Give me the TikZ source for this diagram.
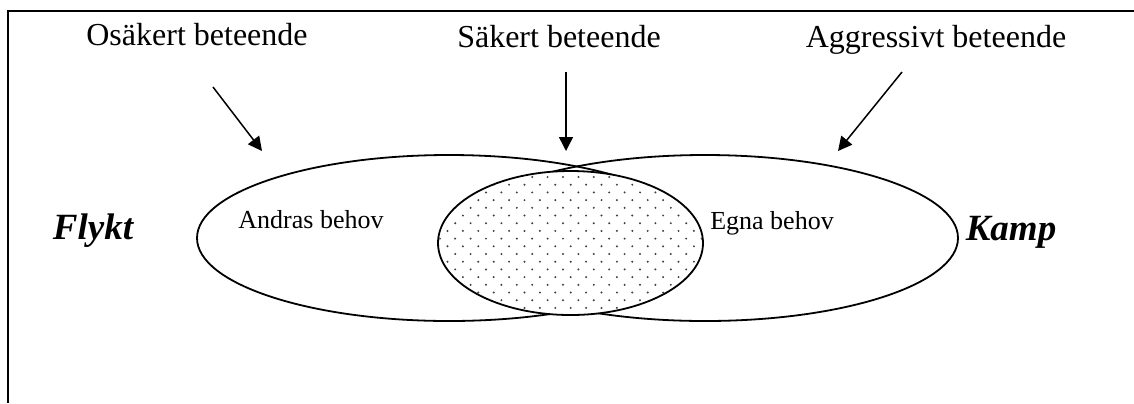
\documentclass[tikz,border=0pt]{standalone}
\usepackage{fontspec}
\setmainfont{Liberation Serif}
\usetikzlibrary{arrows.meta}
\tikzset{
    kant/.style={draw=black, line width=0.9pt},
    pil/.style={line width=0.75pt, -{Triangle[length=7pt,width=7pt]}},
    rubrik/.style={font=\fontsize{16}{19}\selectfont, anchor=base, inner sep=0pt},
    behov/.style={font=\fontsize{13}{16}\selectfont, anchor=base, inner sep=0pt},
    strategi/.style={font=\fontsize{18.5}{22}\selectfont\bfseries\itshape, anchor=base, inner sep=0pt}
}

\begin{document}
\begin{tikzpicture}[x=0.5pt, y=-0.5pt]
    \useasboundingbox (0,0) rectangle (1134,403);
    \draw[kant] (1134,11) -- (8,11) -- (8,403);
    \draw[kant] (449,238) ellipse (252 and 83);
    \draw[kant] (705,238) ellipse (253 and 83);
    \fill[white] (570.5,243) ellipse (132.5 and 72);
    \begin{scope}
        \clip (570.5,243) ellipse (131.5 and 71);
        \foreach \r in {0,...,20} {
            \foreach \k in {0,...,18} {
                \fill[black!75] ({424.4+15.4*\k+7.7*mod(\r+1,2)}, {169.3+7.7*\r}) circle (1.1);
            }
        }
    \end{scope}
    \draw[kant] (570.5,243) ellipse (132.5 and 72);
    \node[rubrik] (osaker) at (197,45) {Osäkert beteende};
    \node[rubrik] (saker) at (559,47) {Säkert beteende};
    \node[rubrik] (aggressiv) at (936,47) {Aggressivt beteende};
    \node[strategi] (flykt) at (93,239) {Flykt};
    \node[strategi] (kamp) at (1011,240) {Kamp};
    \node[behov] (andras) at (311,228) {Andras behov};
    \node[behov] (egna) at (772,229) {Egna behov};
    \coordinate (osaker-fran) at (213,87);
    \coordinate (osaker-till) at (262,151);
    \coordinate (saker-fran) at (566,72);
    \coordinate (saker-till) at (566,151);
    \coordinate (aggressiv-fran) at (902,72);
    \coordinate (aggressiv-till) at (838,151);
    \draw[pil] (osaker-fran) -- (osaker-till);
    \draw[pil] (saker-fran) -- (saker-till);
    \draw[pil] (aggressiv-fran) -- (aggressiv-till);
\end{tikzpicture}
\end{document}
